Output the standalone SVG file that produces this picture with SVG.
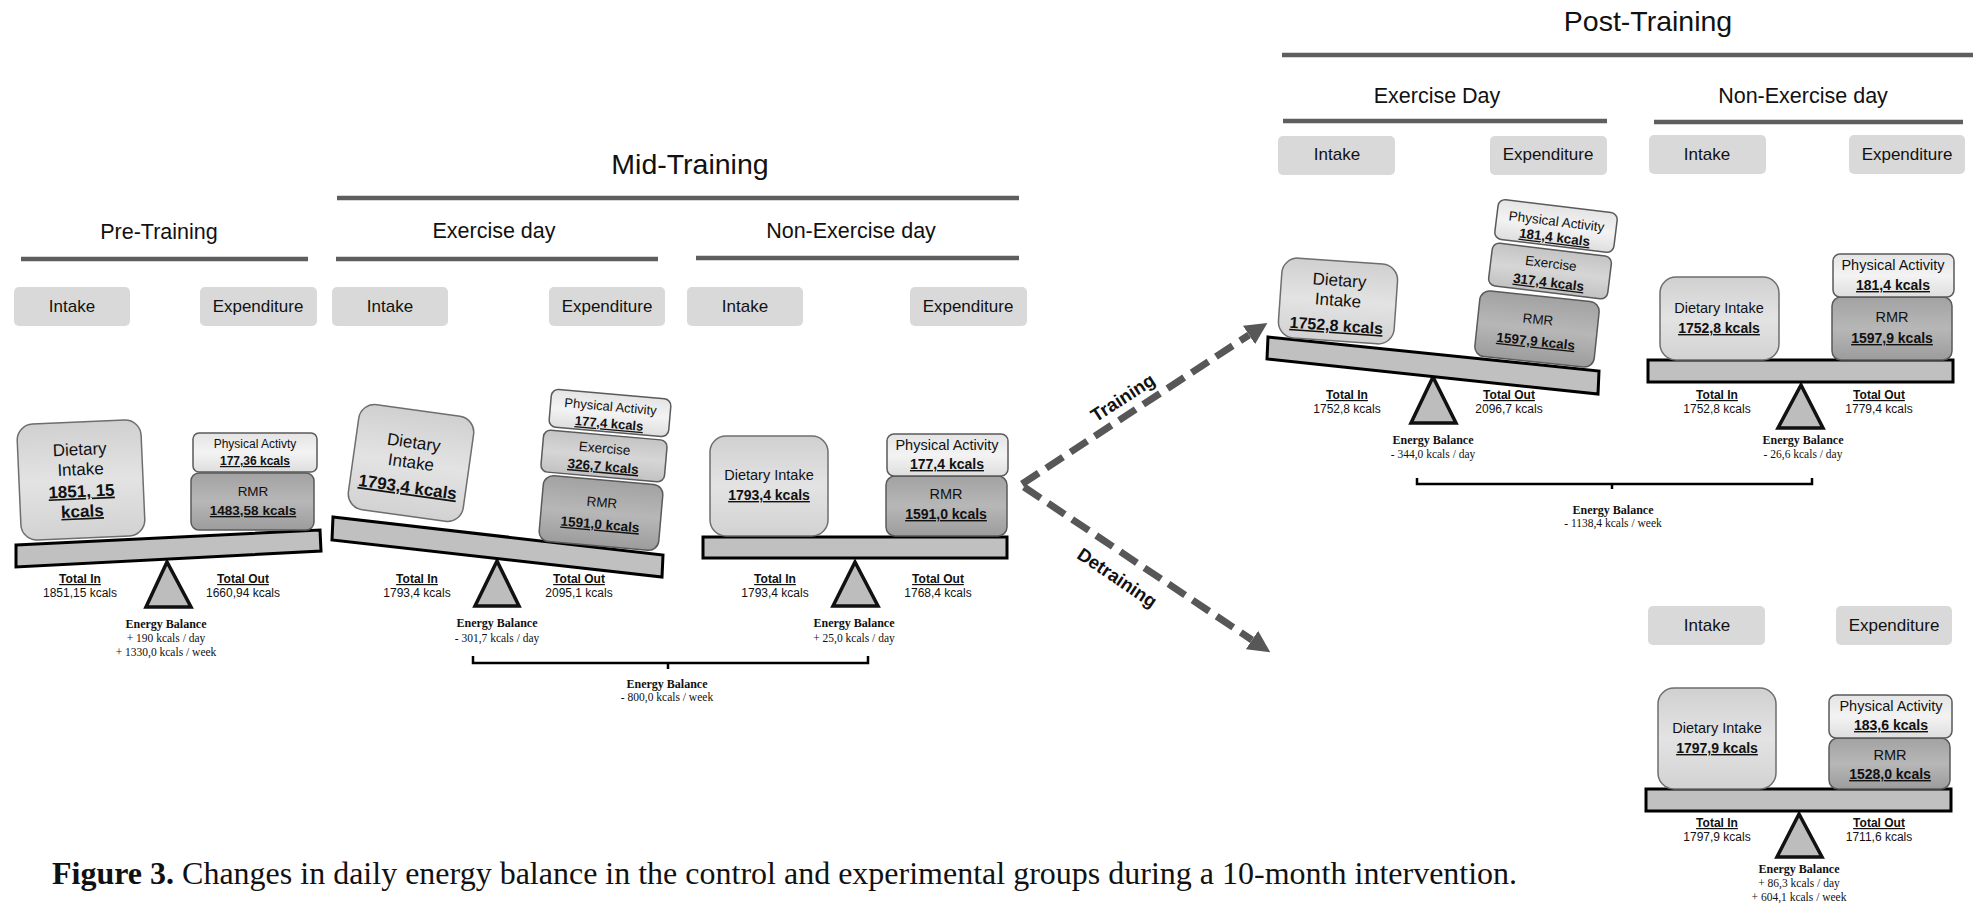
<svg xmlns="http://www.w3.org/2000/svg" width="1973" height="906" viewBox="0 0 1973 906">
<defs>
<linearGradient id="gDiet" x1="0" y1="0" x2="0" y2="1"><stop offset="0" stop-color="#d0d0d0"/><stop offset="0.5" stop-color="#e3e3e3"/><stop offset="1" stop-color="#d2d2d2"/></linearGradient>
<linearGradient id="gPA" x1="0" y1="0" x2="0" y2="1"><stop offset="0" stop-color="#e4e4e4"/><stop offset="0.5" stop-color="#f3f3f3"/><stop offset="1" stop-color="#dedede"/></linearGradient>
<linearGradient id="gEx" x1="0" y1="0" x2="0" y2="1"><stop offset="0" stop-color="#c4c4c4"/><stop offset="0.5" stop-color="#d6d6d6"/><stop offset="1" stop-color="#c2c2c2"/></linearGradient>
<linearGradient id="gRMR" x1="0" y1="0" x2="0" y2="1"><stop offset="0" stop-color="#a2a2a2"/><stop offset="0.5" stop-color="#b7b7b7"/><stop offset="1" stop-color="#9c9c9c"/></linearGradient>
<marker id="ah" viewBox="0 0 22 22" refX="0" refY="11" markerWidth="22" markerHeight="22" markerUnits="userSpaceOnUse" orient="auto"><path d="M0,0 L22,11 L0,22 Z" fill="#575757"/></marker>
</defs>
<style>
text{font-family:"Liberation Sans",Arial,sans-serif;fill:#111;text-anchor:middle}
.t1{font-size:28.5px}
.t2{font-size:21.5px}
.hd{font-size:17px}
.hb{fill:#d9d9d9}
.rule{stroke:#5e5e5e;stroke-width:4.5}
.diet{fill:url(#gDiet);stroke:#6e6e6e;stroke-width:1.5}
.pa{fill:url(#gPA);stroke:#5a5a5a;stroke-width:1.5}
.ex{fill:url(#gEx);stroke:#5a5a5a;stroke-width:1.5}
.rmr{fill:url(#gRMR);stroke:#5a5a5a;stroke-width:1.5}
.kc{font-weight:bold;text-decoration:underline}
.beam{fill:#c0c0c0;stroke:#000;stroke-width:3}
.ful{fill:#bdbdbd;stroke:#111;stroke-width:3.5}
.tot{font-size:12px}
.toth{font-size:12px;font-weight:bold;text-decoration:underline}
.eb{font-family:"Liberation Serif","Times New Roman",serif;font-size:11.5px}
.ebh{font-family:"Liberation Serif","Times New Roman",serif;font-size:12px;font-weight:bold}
.brace{fill:none;stroke:#000;stroke-width:2.5}
.arr{fill:none;stroke:#575757;stroke-width:7;stroke-dasharray:20 9;marker-end:url(#ah)}
.lab{font-size:18.5px;font-weight:bold}
.cap{font-family:"Liberation Serif","Times New Roman",serif;font-size:32px;text-anchor:start}
.s17{font-size:17px}
.s16{font-size:16px}
.s14{font-size:14px}
.s145{font-size:14.5px}
.s135{font-size:13.5px}
.s13{font-size:13px}
.s12{font-size:12px}
</style>

<g id="pre-training">
<text class="t2" x="159" y="239">Pre-Training</text>
<line class="rule" x1="21" y1="259" x2="308" y2="259"/>
<rect class="hb" x="14" y="287" width="116" height="39" rx="5"/>
<text class="hd" x="72" y="312">Intake</text>
<rect class="hb" x="200" y="287" width="117" height="39" rx="5"/>
<text class="hd" x="258" y="312">Expenditure</text>
<polygon class="ful" points="167,562 146,607 191,607"/>
<polygon class="beam" points="16,545 320,530 321,551 16,567"/>
<g transform="translate(81,480) rotate(-2.5)">
<rect class="diet" x="-62" y="-58" width="124" height="116" rx="16"/>
<text class="s17" x="0" y="-25">Dietary</text>
<text class="s17" x="0" y="-5">Intake</text>
<text class="s17 kc" x="0" y="17">1851, 15</text>
<text class="s17 kc" x="0" y="37">kcals</text>
</g>
<rect class="pa" x="193" y="433" width="124" height="39" rx="6"/>
<text class="s12" x="255" y="448">Physical Activty</text>
<text class="s12 kc" x="255" y="465">177,36 kcals</text>
<rect class="rmr" x="191" y="473" width="123" height="57" rx="8"/>
<text class="s135" x="253" y="496">RMR</text>
<text class="s135 kc" x="253" y="515">1483,58 kcals</text>
<text class="toth" x="80" y="583">Total In</text>
<text class="tot" x="80" y="597">1851,15 kcals</text>
<text class="toth" x="243" y="583">Total Out</text>
<text class="tot" x="243" y="597">1660,94 kcals</text>
<text class="ebh" x="166" y="628">Energy Balance</text>
<text class="eb" x="166" y="642">+ 190 kcals / day</text>
<text class="eb" x="166" y="656">+ 1330,0 kcals / week</text>
</g>

<g id="mid-training">
<text class="t1" x="690" y="174">Mid-Training</text>
<line class="rule" x1="337" y1="198" x2="1019" y2="198"/>
</g>

<g id="mid-exercise-day">
<text class="t2" x="494" y="238">Exercise day</text>
<line class="rule" x1="336" y1="259" x2="658" y2="259"/>
<rect class="hb" x="332" y="287" width="116" height="39" rx="5"/>
<text class="hd" x="390" y="312">Intake</text>
<rect class="hb" x="549" y="287" width="116" height="39" rx="5"/>
<text class="hd" x="607" y="312">Expenditure</text>
<polygon class="ful" points="497,561 475,606 519,606"/>
<polygon class="beam" points="333,517 663,555 662,577 332,540"/>
<g transform="translate(411,463) rotate(8)">
<rect class="diet" x="-58" y="-53" width="116" height="106" rx="16"/>
<text class="s17" x="0" y="-15">Dietary</text>
<text class="s17" x="0" y="5">Intake</text>
<text class="s17 kc" x="0" y="30">1793,4 kcals</text>
</g>
<g transform="translate(601,513) rotate(5)">
<rect class="rmr" x="-60" y="-33" width="120" height="66" rx="10"/>
<text class="s135" x="0" y="-6">RMR</text>
<text class="s135 kc" x="0" y="16">1591,0 kcals</text>
</g>
<g transform="translate(604,456) rotate(5)">
<rect class="ex" x="-62" y="-21" width="124" height="42" rx="7"/>
<text class="s135" x="0" y="-3">Exercise</text>
<text class="s135 kc" x="0" y="15">326,7 kcals</text>
</g>
<g transform="translate(610,413) rotate(5)">
<rect class="pa" x="-60" y="-19" width="120" height="38" rx="7"/>
<text class="s13" x="0" y="-2">Physical Activity</text>
<text class="s13 kc" x="0" y="15">177,4 kcals</text>
</g>
<text class="toth" x="417" y="583">Total In</text>
<text class="tot" x="417" y="597">1793,4 kcals</text>
<text class="toth" x="579" y="583">Total Out</text>
<text class="tot" x="579" y="597">2095,1 kcals</text>
<text class="ebh" x="497" y="627">Energy Balance</text>
<text class="eb" x="497" y="642">- 301,7 kcals / day</text>
</g>

<g id="mid-non-exercise-day">
<text class="t2" x="851" y="238">Non-Exercise day</text>
<line class="rule" x1="696" y1="258" x2="1019" y2="258"/>
<rect class="hb" x="687" y="287" width="116" height="39" rx="5"/>
<text class="hd" x="745" y="312">Intake</text>
<rect class="hb" x="910" y="287" width="117" height="39" rx="5"/>
<text class="hd" x="968" y="312">Expenditure</text>
<polygon class="ful" points="855,562 833,606 878,606"/>
<rect class="beam" x="703" y="537" width="304" height="21"/>
<rect class="diet" x="710" y="436" width="118" height="100" rx="16"/>
<text class="s145" x="769" y="480">Dietary Intake</text>
<text class="s14 kc" x="769" y="500">1793,4 kcals</text>
<rect class="rmr" x="886" y="476" width="121" height="60" rx="9"/>
<text class="s145" x="946" y="499">RMR</text>
<text class="s14 kc" x="946" y="519">1591,0 kcals</text>
<rect class="pa" x="887" y="434" width="121" height="42" rx="7"/>
<text class="s145" x="947" y="450">Physical Activity</text>
<text class="s14 kc" x="947" y="469">177,4 kcals</text>
<text class="toth" x="775" y="583">Total In</text>
<text class="tot" x="775" y="597">1793,4 kcals</text>
<text class="toth" x="938" y="583">Total Out</text>
<text class="tot" x="938" y="597">1768,4 kcals</text>
<text class="ebh" x="854" y="627">Energy Balance</text>
<text class="eb" x="854" y="642">+ 25,0 kcals / day</text>
</g>

<g id="mid-week-balance">
<path class="brace" d="M473,656 V663 H868 V656 M668,663 V669"/>
<text class="ebh" x="667" y="688">Energy Balance</text>
<text class="eb" x="667" y="701">- 800,0 kcals / week</text>
</g>

<g id="post-training">
<text class="t1" x="1648" y="31">Post-Training</text>
<line class="rule" x1="1282" y1="55" x2="1973" y2="55"/>
</g>

<g id="post-exercise-day">
<text class="t2" x="1437" y="103">Exercise Day</text>
<line class="rule" x1="1283" y1="121" x2="1607" y2="121"/>
<rect class="hb" x="1278" y="136" width="117" height="39" rx="5"/>
<text class="hd" x="1337" y="160">Intake</text>
<rect class="hb" x="1490" y="136" width="117" height="39" rx="5"/>
<text class="hd" x="1548" y="160">Expenditure</text>
<polygon class="ful" points="1433,377 1411,423 1456,423"/>
<polygon class="beam" points="1268,337 1599,371 1598,394 1267,359"/>
<g transform="translate(1338,301) rotate(4)">
<rect class="diet" x="-58" y="-40" width="116" height="80" rx="16"/>
<text class="s17" x="0" y="-15">Dietary</text>
<text class="s17" x="0" y="5">Intake</text>
<text class="s16 kc" x="0" y="30">1752,8 kcals</text>
</g>
<g transform="translate(1537,329) rotate(6)">
<rect class="rmr" x="-60" y="-33" width="120" height="66" rx="10"/>
<text class="s135" x="0" y="-5">RMR</text>
<text class="s135 kc" x="0" y="17">1597,9 kcals</text>
</g>
<g transform="translate(1550,271) rotate(7)">
<rect class="ex" x="-60" y="-21.5" width="120" height="43" rx="7"/>
<text class="s135" x="0" y="-3">Exercise</text>
<text class="s135 kc" x="0" y="16">317,4 kcals</text>
</g>
<g transform="translate(1556,226) rotate(7)">
<rect class="pa" x="-60" y="-20" width="120" height="40" rx="7"/>
<text class="s135" x="0" y="0">Physical Activity</text>
<text class="s135 kc" x="0" y="16">181,4 kcals</text>
</g>
<text class="toth" x="1347" y="399">Total In</text>
<text class="tot" x="1347" y="413">1752,8 kcals</text>
<text class="toth" x="1509" y="399">Total Out</text>
<text class="tot" x="1509" y="413">2096,7 kcals</text>
<text class="ebh" x="1433" y="444">Energy Balance</text>
<text class="eb" x="1433" y="458">- 344,0 kcals / day</text>
</g>

<g id="post-non-exercise-day">
<text class="t2" x="1803" y="103">Non-Exercise day</text>
<line class="rule" x1="1654" y1="122" x2="1963" y2="122"/>
<rect class="hb" x="1649" y="135" width="117" height="39" rx="5"/>
<text class="hd" x="1707" y="160">Intake</text>
<rect class="hb" x="1849" y="135" width="116" height="39" rx="5"/>
<text class="hd" x="1907" y="160">Expenditure</text>
<polygon class="ful" points="1801,385 1778,428 1823,428"/>
<rect class="beam" x="1648" y="360" width="305" height="22"/>
<rect class="diet" x="1660" y="277" width="119" height="83" rx="16"/>
<text class="s145" x="1719" y="313">Dietary Intake</text>
<text class="s14 kc" x="1719" y="333">1752,8 kcals</text>
<rect class="rmr" x="1832" y="297" width="120" height="63" rx="9"/>
<text class="s145" x="1892" y="322">RMR</text>
<text class="s14 kc" x="1892" y="343">1597,9 kcals</text>
<rect class="pa" x="1833" y="254" width="121" height="43" rx="7"/>
<text class="s145" x="1893" y="270">Physical Activity</text>
<text class="s14 kc" x="1893" y="290">181,4 kcals</text>
<text class="toth" x="1717" y="399">Total In</text>
<text class="tot" x="1717" y="413">1752,8 kcals</text>
<text class="toth" x="1879" y="399">Total Out</text>
<text class="tot" x="1879" y="413">1779,4 kcals</text>
<text class="ebh" x="1803" y="444">Energy Balance</text>
<text class="eb" x="1803" y="458">- 26,6 kcals / day</text>
</g>

<g id="post-week-balance">
<path class="brace" d="M1417,478 V484 H1812 V478 M1612,484 V489"/>
<text class="ebh" x="1613" y="514">Energy Balance</text>
<text class="eb" x="1613" y="527">- 1138,4 kcals / week</text>
</g>

<g id="detraining-panel">
<rect class="hb" x="1648" y="606" width="117" height="39" rx="5"/>
<text class="hd" x="1707" y="631">Intake</text>
<rect class="hb" x="1836" y="606" width="116" height="39" rx="5"/>
<text class="hd" x="1894" y="631">Expenditure</text>
<polygon class="ful" points="1799,814 1777,857 1822,857"/>
<rect class="beam" x="1646" y="789" width="305" height="22"/>
<rect class="diet" x="1658" y="688" width="118" height="101" rx="16"/>
<text class="s145" x="1717" y="733">Dietary Intake</text>
<text class="s14 kc" x="1717" y="753">1797,9 kcals</text>
<rect class="rmr" x="1829" y="738" width="121" height="51" rx="9"/>
<text class="s145" x="1890" y="760">RMR</text>
<text class="s14 kc" x="1890" y="779">1528,0 kcals</text>
<rect class="pa" x="1829" y="695" width="123" height="43" rx="7"/>
<text class="s145" x="1891" y="711">Physical Activity</text>
<text class="s14 kc" x="1891" y="730">183,6 kcals</text>
<text class="toth" x="1717" y="827">Total In</text>
<text class="tot" x="1717" y="841">1797,9 kcals</text>
<text class="toth" x="1879" y="827">Total Out</text>
<text class="tot" x="1879" y="841">1711,6 kcals</text>
<text class="ebh" x="1799" y="873">Energy Balance</text>
<text class="eb" x="1799" y="887">+ 86,3 kcals / day</text>
<text class="eb" x="1799" y="901">+ 604,1 kcals / week</text>
</g>

<g id="connectors">
<line class="arr" x1="1022" y1="484" x2="1249" y2="335"/>
<line class="arr" x1="1024" y1="487" x2="1252" y2="640"/>
<text class="lab" transform="translate(1123,398) rotate(-33)" x="0" y="6">Training</text>
<text class="lab" transform="translate(1117,578) rotate(34)" x="0" y="6">Detraining</text>
</g>

<g id="caption">
<text class="cap" x="52" y="884"><tspan font-weight="bold">Figure 3.</tspan> Changes in daily energy balance in the control and experimental groups during a 10-month intervention.</text>
</g>
</svg>
